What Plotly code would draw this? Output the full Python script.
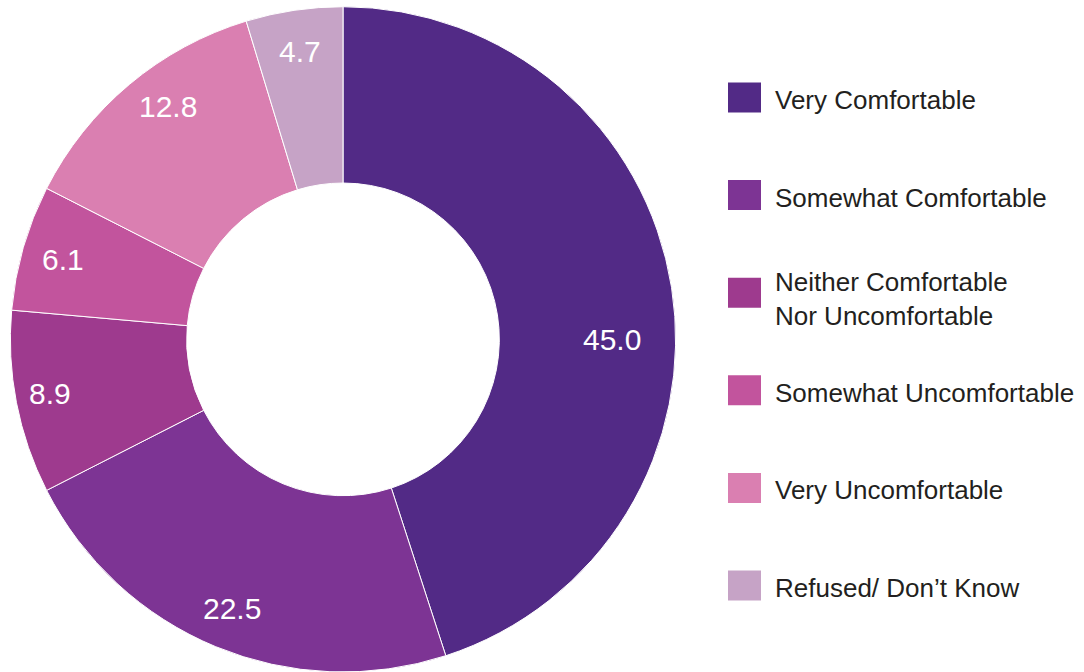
import math
import plotly.graph_objects as go

# Survey responses (percent)
categories = [
    "Very Comfortable",
    "Somewhat Comfortable",
    "Neither Comfortable<br>Nor Uncomfortable",
    "Somewhat Uncomfortable",
    "Very Uncomfortable",
    "Refused/ Don\u2019t Know",
]
values = [45.0, 22.5, 8.9, 6.1, 12.8, 4.7]
colors = ["#522A86", "#7D3494", "#9E3A8E", "#C2549D", "#DA7FB1", "#C6A3C6"]

W, H = 1084, 672
FONT = "Liberation Sans, Arial, Helvetica, sans-serif"

# Donut geometry in pixels
cx, cy_top, R = 343, 339.4, 332.6
dom_x = [(cx - 333) / W, (cx + 333) / W]
dom_y = [0.0, 0.99]


def to_paper(px, py):
    return px / W, 1 - py / H


fig = go.Figure(
    go.Pie(
        labels=categories,
        values=values,
        marker=dict(colors=colors, line=dict(color="white", width=1)),
        hole=0.47,
        sort=False,
        direction="clockwise",
        rotation=0,
        textinfo="none",
        hoverinfo="label+value",
        domain=dict(x=dom_x, y=dom_y),
        showlegend=False,
    )
)

annotations = []
shapes = []

# Value labels placed inside the ring near each slice's mid-angle
total = sum(values)
# (angle from 12 o'clock, fraction of outer radius) where a label is nudged
label_override = {0: (90.0, 0.81), 2: (259.5, 0.895), 4: (323.0, 0.875)}
cum = 0.0
for i, v in enumerate(values):
    mid = (cum + v / 2) / total * 360.0
    cum += v
    ang, frac = label_override.get(i, (mid, 0.875))
    r = frac * R
    px = cx + r * math.sin(math.radians(ang))
    py = cy_top - r * math.cos(math.radians(ang))
    x, y = to_paper(px, py)
    annotations.append(
        dict(
            x=x, y=y, xref="paper", yref="paper",
            text=f"{v:.1f}", showarrow=False,
            font=dict(family=FONT, size=30, color="white"),
            xanchor="center", yanchor="middle",
        )
    )

# Legend drawn as swatches with labels
sw_x0, sw_x1 = 728, 761
sw_h = 30
first_c, step = 97.5, 97.6
for i, (lab, col) in enumerate(zip(categories, colors)):
    c = first_c + i * step
    x0, y0 = to_paper(sw_x0, c - sw_h / 2)
    x1, y1 = to_paper(sw_x1, c + sw_h / 2)
    shapes.append(
        dict(type="rect", xref="paper", yref="paper",
             x0=x0, x1=x1, y0=y1, y1=y0,
             fillcolor=col, line=dict(width=0))
    )
    tx, ty = to_paper(773, c + (6 if "<br>" in lab else 2.5))
    annotations.append(
        dict(
            x=tx, y=ty, xref="paper", yref="paper",
            text=lab, showarrow=False, align="left",
            font=dict(family=FONT, size=26, color="#231F20"),
            xanchor="left", yanchor="middle",
        )
    )

fig.update_layout(
    width=W, height=H,
    margin=dict(l=0, r=0, t=0, b=0),
    paper_bgcolor="white", plot_bgcolor="white",
    annotations=annotations, shapes=shapes,
    font=dict(family=FONT),
)

fig.write_html("out.html", config={"displayModeBar": False})
